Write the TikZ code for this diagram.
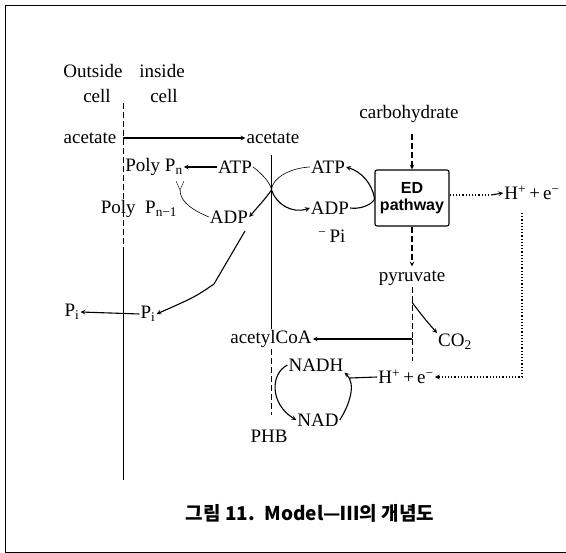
\documentclass[tikz,border=0pt]{standalone}
\usepackage{fontspec}
\setmainfont{Liberation Serif}
\newfontfamily\edfont{Liberation Sans}
\newfontfamily\cjk{Noto Sans CJK KR}
\usetikzlibrary{arrows,calc}

\tikzset{
  lbl/.style={font=\fontsize{19}{21}\selectfont, inner sep=1pt},
  arr/.style={->,>=stealth,line width=1.1pt},
  dashln/.style={dash pattern=on 6pt off 3pt},
  dotln/.style={dotted,line width=1.2pt},
  edbox/.style={draw,line width=1.1pt,rounded corners=2pt,minimum width=74pt,
    minimum height=56pt,align=center,inner sep=0pt,
    font=\edfont\bfseries\fontsize{16}{17}\selectfont},
}

\begin{document}
\begin{tikzpicture}[x=1pt,y=-1pt]
  \useasboundingbox (0,0) rectangle (566,553);
  % 테두리
  \draw[thick] (566,5) -- (5,5) -- (5,552) -- (566,552);

  % 세포막
  \coordinate (memtop) at (123,103);
  \coordinate (memmid) at (123,250);
  \coordinate (membot) at (123,480);
  \draw[dashln] (memtop) -- (memmid);
  \draw (memmid) -- (membot);

  \node[lbl] (outside) at (93,71) {Outside};
  \node[lbl] (outcell) at (97,96) {cell};
  \node[lbl] (inside) at (162,71) {inside};
  \node[lbl] (incell) at (164,96) {cell};

  % 아세테이트
  \node[lbl] (aceL) at (90,138) {acetate};
  \node[lbl] (aceR) at (273,138) {acetate};
  \draw[arr] (aceL.east -| memtop) -- (aceR.west);

  % 폴리인산
  \node[lbl] (polyn) at (154,167) {Poly P\textsubscript{n}};
  \node[lbl] (polyn1) at (139,209) {Poly\enspace P\textsubscript{n−1}};
  \node[lbl] (atpL) at (235,167) {ATP};
  \node[lbl] (adpL) at (229,217) {ADP};
  \draw[arr] (atpL.west) -- (polyn.east);
  \coordinate (fork) at (180,190);
  \draw (176,181) -- (fork) -- (184,181);
  \draw[semithick] (fork) .. controls (180,203) and (195,211) .. (adpL.west);

  % 가운데 선
  \node[lbl] (acoa) at (271,339) {acetylCoA};
  \coordinate (midtop) at (271.5,155);
  \coordinate (midbot) at (271.5,415);
  \coordinate (X) at (271.5,190);
  \draw (midtop) -- (midtop |- acoa.north);
  \draw[dashln] (midtop |- acoa.south) -- (midbot);

  \node[lbl] (atpR) at (328,167) {ATP};
  \node[lbl] (adpR) at (330,208) {ADP};
  \node[lbl] (piR) at (332,236) {\textsuperscript{−}\,Pi};
  \draw[semithick] (atpL.east) .. controls (262,174) and (270,182) .. (X);
  \draw[arr] (X) .. controls (266,198) and (262,202) .. (adpL.east);
  \draw[semithick] (atpR.west) .. controls (290,168) and (272,178) .. (X);
  \draw[arr] (X) .. controls (276,204) and (292,214) .. (adpR.west);

  % ED 경로
  \node[edbox] (ed) at (412,198) {ED\\pathway};
  \draw[arr] (adpR.east) .. controls (366,210) and (376,200) .. (ed.west)
    .. controls (372,184) and (362,172) .. (atpR.east);
  \node[lbl] (carb) at (409,114) {carbohydrate};
  \draw[arr,dashln,shorten <=10pt] (carb.south -| ed.north) -- (ed.north);
  \node[lbl] (pyr) at (412,278) {pyruvate};
  \draw[arr,dashln,shorten >=3pt] (ed.south) -- (pyr.north);
  \node[lbl] (co2) at (455,342) {CO\textsubscript{2}};
  \coordinate (J) at (pyr.south |- acoa.east);
  \coordinate (B) at ($(pyr.south)!0.3!(J)$);
  \draw[dashln,semithick] (pyr.south) -- (J);
  \draw[arr] (B) .. controls (424,318) .. (co2.north west);
  \draw[arr] (J) -- (acoa.east);
  \draw[dashln,semithick] (J) -- ++(0,22);

  % 인산
  \node[lbl] (piL) at (72,312) {P\textsubscript{i}};
  \node[lbl] (piI) at (148,314) {P\textsubscript{i}};
  \draw[arr] (piI.west) -- (piL.east);
  \coordinate (adpout) at (245,231);
  \draw[arr] (adpout) -- (214,284) .. controls (195,297) .. (piI.east);

  % NADH 순환
  \node[lbl] (nadh) at (316,365) {NADH};
  \node[lbl] (nad) at (318,420) {NAD};
  \node[lbl] (phb) at (269,436) {PHB};
  \node[lbl] (hebot) at (406,377) {H\textsuperscript{+}\,+\,e\textsuperscript{−}};
  \node[lbl] (hetop) at (532,193) {H\textsuperscript{+}\,+\,e\textsuperscript{−}};
  \draw[arr] (nadh.west) .. controls (270,374) and (270,404) .. (nad.west);
  \draw[arr] (nad.east) .. controls (350,404) and (356,384) .. (nadh.south east);
  \coordinate (hn) at (350,378);
  \draw[line width=1.1pt] (hebot.west) -- (hn);

  % 점선
  \coordinate (d1) at (491,195);
  \coordinate (dtop) at (522,213);
  \draw[dotln] (ed.east |- d1) -- (d1);
  \draw[arr] (d1) -- (hetop.west);
  \draw[dotln,->,>=stealth] (dtop) |- (hebot.east);

  % 제목
  \node[font=\cjk\bfseries\fontsize{19}{21}\selectfont] (title) at (310,513)
    {그림 11.\enspace Model—Ⅲ의 개념도};
\end{tikzpicture}
\end{document}
